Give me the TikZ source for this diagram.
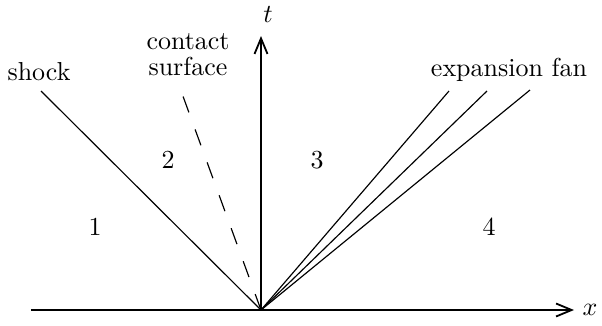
\documentclass[tikz,border=0pt]{standalone}
\usepackage{tikz}
\usetikzlibrary{arrows.meta}
\tikzset{
  axis/.style={line width=0.7pt, -{Straight Barb[length=6pt, width=5pt]}},
  wave/.style={line width=0.45pt},
  contactline/.style={line width=0.45pt, dash pattern=on 6.5pt off 7pt},
  lbl/.style={font=\normalsize, inner sep=1pt, align=center},
}
\begin{document}
\begin{tikzpicture}[x=0.385pt, y=0.385pt]
  \useasboundingbox (-261,-15) rectangle (341,310);
  \coordinate (o) at (0,0);
  \coordinate (xl) at (-230,0);
  \coordinate (xr) at (313,0);
  \coordinate (tt) at (0,274);
  \coordinate (s) at (-220,219);
  \coordinate (c) at (-81,222);
  \coordinate (f1) at (188,219);
  \coordinate (f2) at (226,219);
  \coordinate (f3) at (269,220);
  % axes
  \draw[axis] (xl) -- (xr);
  \draw[axis] (o) -- (tt);
  \node[lbl] (xlab) at (329,0) {$x$};
  \node[lbl] (tlab) at (7,295) {$t$};
  % waves
  \draw[wave] (o) -- (s);
  \draw[contactline] (o) -- (c);
  \draw[wave] (o) -- (f1);
  \draw[wave] (o) -- (f2);
  \draw[wave] (o) -- (f3);
  \node[lbl] (shock) at (-222,238) {shock};
  \node[lbl] (contact) at (-73,255) {contact\\[-2pt]surface};
  \node[lbl] (fan) at (248,240) {expansion fan};
  % regions
  \node[lbl] (r1) at (-166,83) {1};
  \node[lbl] (r2) at (-93,150) {2};
  \node[lbl] (r3) at (56,150) {3};
  \node[lbl] (r4) at (228,83) {4};
\end{tikzpicture}
\end{document}
